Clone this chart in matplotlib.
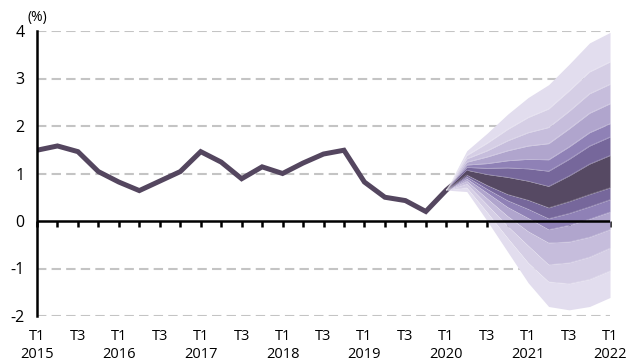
import matplotlib.pyplot as plt

plt.rcParams['font.family'] = ['Open Sans', 'DejaVu Sans']
plt.rcParams['axes.unicode_minus'] = False

# quarterly inflation, 2015 T1 .. 2020 T2
hist = [1.49, 1.58, 1.46, 1.04, 0.82, 0.64, 0.84, 1.04, 1.46, 1.24, 0.89, 1.14,
        1.00, 1.22, 1.41, 1.49, 0.82, 0.50, 0.43, 0.20, 0.65, 1.02]

# fan edges, 2020 T1 .. 2022 T1 (top to bottom)
top_out = [0.65, 1.48, 1.85, 2.25, 2.60, 2.87, 3.30, 3.75, 3.97]
up5 = [0.65, 1.38, 1.64, 1.93, 2.18, 2.36, 2.74, 3.14, 3.35]
up4 = [0.65, 1.31, 1.48, 1.69, 1.86, 1.97, 2.31, 2.68, 2.88]
up3 = [0.65, 1.24, 1.35, 1.48, 1.58, 1.63, 1.94, 2.27, 2.47]
up2 = [0.65, 1.18, 1.21, 1.27, 1.30, 1.29, 1.56, 1.86, 2.05]
up1 = [0.65, 1.13, 1.11, 1.12, 1.10, 1.05, 1.30, 1.58, 1.77]
mid_top = [0.65, 1.07, 0.98, 0.92, 0.84, 0.73, 0.95, 1.20, 1.38]
mid_bot = [0.65, 0.97, 0.75, 0.56, 0.44, 0.28, 0.41, 0.56, 0.70]
lo1 = [0.65, 0.93, 0.67, 0.43, 0.25, 0.05, 0.16, 0.30, 0.45]
lo2 = [0.65, 0.89, 0.59, 0.29, 0.06, -0.18, -0.09, 0.04, 0.19]
lo3 = [0.65, 0.84, 0.47, 0.10, -0.22, -0.46, -0.44, -0.34, -0.18]
lo4 = [0.65, 0.78, 0.34, -0.11, -0.52, -0.92, -0.88, -0.76, -0.57]
lo5 = [0.65, 0.70, 0.18, -0.36, -0.88, -1.28, -1.32, -1.23, -1.05]
bot_out = [0.65, 0.62, 0.00, -0.65, -1.30, -1.80, -1.87, -1.80, -1.61]

edges = [top_out, up5, up4, up3, up2, up1, mid_top, mid_bot, lo1, lo2, lo3, lo4, lo5, bot_out]
shades = ['#e2ddee', '#d5cee5', '#c6bddc', '#b0a5cd', '#8f81b6', '#76679b', '#564963',
          '#76679b', '#8f81b6', '#b0a5cd', '#c6bddc', '#d5cee5', '#e2ddee']

years = list(range(2015, 2023))
n_q = 29

fig = plt.figure(figsize=(6.28, 3.62), dpi=100)
ax = fig.add_axes([37/628, 1-316/362, 573/628, 285/362])

x_hist = list(range(len(hist)))
ax.plot(x_hist, hist, color='#54465f', lw=3.6, solid_joinstyle='miter', zorder=3)

x_fan = list(range(20, 20 + len(top_out)))
for i, c in enumerate(shades):
    ax.fill_between(x_fan, edges[i], edges[i+1], color=c, lw=0, zorder=4)
for e in edges[1:-1]:
    ax.plot(x_fan, e, color='white', lw=0.4, alpha=0.3, zorder=5)

ax.set_xlim(0, 28)
ax.set_ylim(-2, 4)
ax.set_yticks([-2, -1, 0, 1, 2, 3, 4])
for v in [-2, -1, 1, 2, 3, 4]:
    ax.axhline(v, color='#c4c4c4', lw=1.5, ls=(0, (4.5, 2.5)), zorder=1)
ax.axhline(0, color='black', lw=1.8, zorder=6)

labels = []
for i in range(n_q):
    if i % 4 == 0:
        labels.append('T1\n%d' % years[i // 4])
    elif i % 4 == 2:
        labels.append('T3')
    else:
        labels.append('')
ax.set_xticks(range(n_q))
ax.set_xticklabels(labels, fontsize=10.5, linespacing=1.3)
ax.tick_params(axis='x', length=0, pad=9)
ax.tick_params(axis='y', length=0, pad=9, labelsize=11.5)

zero = ax.secondary_xaxis(1/3)
zero.set_xticks(range(n_q))
zero.set_xticklabels([])
zero.tick_params(direction='out', length=4, width=1.8, color='black')
zero.spines['bottom'].set_visible(False)

for s in ['top', 'right', 'bottom']:
    ax.spines[s].set_visible(False)
ax.spines['left'].set_linewidth(1.8)
ax.spines['left'].set_zorder(7)

fig.text(27/628, 1-18/362, '(%)', fontsize=10, va='center', ha='left')

fig.savefig('out.png', dpi=100)
